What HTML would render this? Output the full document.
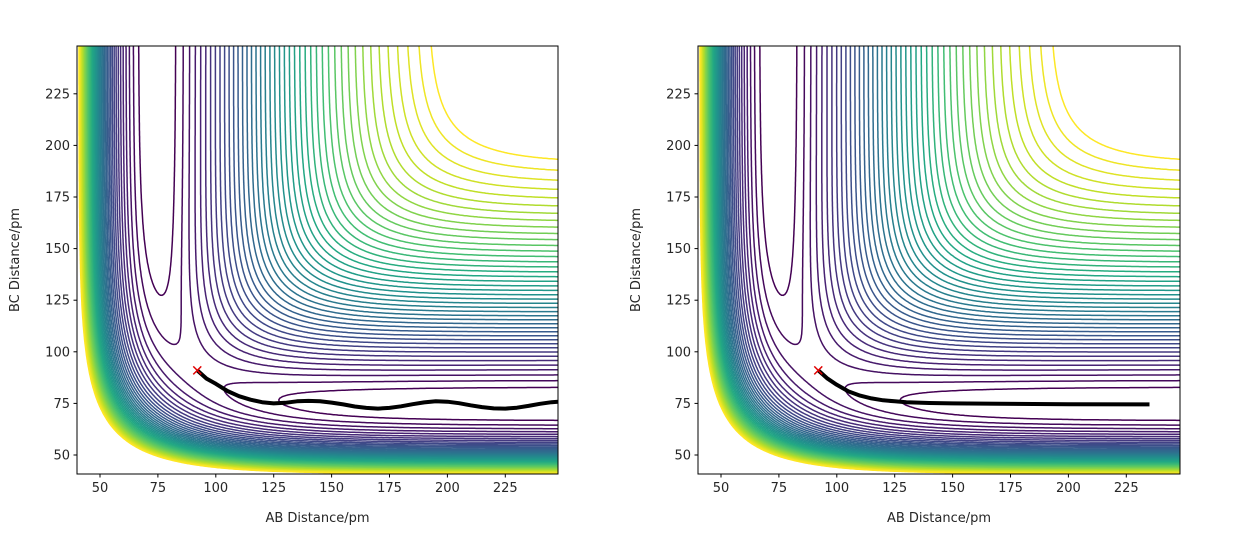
<!DOCTYPE html>
<html><head><meta charset="utf-8">
<style>
html,body{margin:0;padding:0;background:#fff;}
svg{display:block;font-family:"DejaVu Sans","Liberation Sans",sans-serif;}
</style></head>
<body>
<svg id="s" width="1241" height="550" viewBox="0 0 1241 550" xmlns="http://www.w3.org/2000/svg">
<defs>
<clipPath id="c0"><rect x="77" y="46" width="481" height="428"/></clipPath>
<clipPath id="c1"><rect x="698" y="46" width="482" height="428"/></clipPath>
</defs>
<g id="p0" clip-path="url(#c0)"></g>
<g id="p1" clip-path="url(#c1)"></g>
<g id="ax" font-size="13" fill="#262626"></g>
</svg>
<script>
(function(){
var NS="http://www.w3.org/2000/svg";
var D=458.2,B=0.0193,RE=74.1,F=0.695;
function E(r){var a=Math.exp(-B*(r-RE));var e1=D*(a*a-2*a),e3=F*D/2*(a*a+2*a);return [(e1+e3)/2,(e1-e3)/2];}
function V(x,y){var a=E(x),b=E(y),c=E(x+y);
 var j=0.5*((a[1]-b[1])*(a[1]-b[1])+(b[1]-c[1])*(b[1]-c[1])+(c[1]-a[1])*(c[1]-a[1]));
 return a[0]+b[0]+c[0]-Math.sqrt(j);}
var vir=["#440154","#482475","#414487","#355f8d","#2a788e","#21918c","#22a884","#44bf70","#7ad151","#bddf26","#fde725"];
function hx(h){return [parseInt(h.substr(1,2),16),parseInt(h.substr(3,2),16),parseInt(h.substr(5,2),16)];}
function cmap(t){t=Math.max(0,Math.min(1,t));var f=t*10,i=Math.min(9,Math.floor(f)),u=f-i;var a=hx(vir[i]),b=hx(vir[i+1]);
 return "rgb("+[0,1,2].map(function(k){return Math.round(a[k]+(b[k]-a[k])*u);}).join(",")+")";}
var levels=[];for(var L=-447;L<=-90;L+=8.5)levels.push(L);
var X0=40.1,X1=247.9,Y0=40.8,Y1=248;
var NX=300,NY=260;
var grid=[];
for(var j=0;j<=NY;j++){var row=[];var yv=Y0+(Y1-Y0)*j/NY;for(var i=0;i<=NX;i++){row.push(V(X0+(X1-X0)*i/NX,yv));}grid.push(row);}
function build(gid,left,width){
 var g=document.getElementById(gid);
 function px(i){return left+width*i/NX;}
 function py(j){return 474-428*j/NY;}
 levels.forEach(function(lv,li){
  var d="";
  for(var j=0;j<NY;j++)for(var i=0;i<NX;i++){
   var a=grid[j][i],b=grid[j][i+1],c=grid[j+1][i+1],e=grid[j+1][i];
   var pts=[];
   function cr(v1,v2,x1,y1,x2,y2){if((v1<lv)!=(v2<lv)){var t=(lv-v1)/(v2-v1);pts.push([x1+(x2-x1)*t,y1+(y2-y1)*t]);}}
   cr(a,b,px(i),py(j),px(i+1),py(j));
   cr(b,c,px(i+1),py(j),px(i+1),py(j+1));
   cr(c,e,px(i+1),py(j+1),px(i),py(j+1));
   cr(e,a,px(i),py(j+1),px(i),py(j));
   for(var k=0;k+1<pts.length;k+=2)d+="M"+pts[k][0].toFixed(1)+" "+pts[k][1].toFixed(1)+"L"+pts[k+1][0].toFixed(1)+" "+pts[k+1][1].toFixed(1);
  }
  var p=document.createElementNS(NS,"path");p.setAttribute("d",d);p.setAttribute("fill","none");
  p.setAttribute("stroke",cmap(li/(levels.length-1)));p.setAttribute("stroke-width","1.5");p.setAttribute("stroke-linecap","round");
  g.appendChild(p);
 });
}
build("p0",77,481);build("p1",698,482);
function X(v,off){return off+100+(v-50)*2.316;}
function Y(v){return 455-(v-50)*2.064;}
var tr0=[[92,91],[96,87],[100,84.5],[105,81],[110,78.5],[115,76.8],[120,75.6],[125,75],[130,75.3],[135,76],[140,76.2],[145,76],[150,75.4],[155,74.5],[160,73.5],[165,72.8],[170,72.5],[175,72.8],[180,73.6],[185,74.6],[190,75.5],[195,76],[200,75.8],[205,75.1],[210,74.1],[215,73.2],[220,72.6],[225,72.5],[230,72.9],[235,73.8],[240,74.8],[245,75.6],[250,76]];
var tr1=[[92,91],[96,87],[100,84],[105,80.8],[110,78.8],[115,77.4],[120,76.5],[125,76],[130,75.6],[140,75.2],[150,75],[170,74.8],[200,74.6],[235,74.5]];
function traj(gid,tr,off){
 var g=document.getElementById(gid);
 var s=tr.map(function(p){return X(p[0],off).toFixed(1)+","+Y(p[1]).toFixed(1);}).join(" ");
 var pl=document.createElementNS(NS,"polyline");pl.setAttribute("points",s);pl.setAttribute("fill","none");
 pl.setAttribute("stroke","#000");pl.setAttribute("stroke-width","4");pl.setAttribute("stroke-linejoin","round");g.appendChild(pl);
 var cx=X(92,off),cy=Y(91);
 var x=document.createElementNS(NS,"path");x.setAttribute("d","M"+(cx-4)+" "+(cy-4)+"L"+(cx+4)+" "+(cy+4)+"M"+(cx-4)+" "+(cy+4)+"L"+(cx+4)+" "+(cy-4));
 x.setAttribute("stroke","#e00000");x.setAttribute("stroke-width","1.5");g.appendChild(x);
}
traj("p0",tr0,0);traj("p1",tr1,621);
var ax=document.getElementById("ax");var h="";
[[77,481,0],[698,482,621]].forEach(function(p){
 var l=p[0],w=p[1],off=p[2];
 h+='<rect x="'+l+'" y="46" width="'+w+'" height="428" fill="none" stroke="#000" stroke-width="1"/>';
 for(var v=50;v<=225;v+=25){var xx=X(v,off),yy=Y(v);
  h+='<line x1="'+xx+'" y1="474" x2="'+xx+'" y2="477.5" stroke="#000"/>';
  h+='<text x="'+xx+'" y="492" text-anchor="middle">'+v+'</text>';
  h+='<line x1="'+l+'" y1="'+yy+'" x2="'+(l-3.5)+'" y2="'+yy+'" stroke="#000"/>';
  h+='<text x="'+(l-7)+'" y="'+(yy+4.5)+'" text-anchor="end">'+v+'</text>';}
 h+='<text x="'+(l+w/2)+'" y="522" text-anchor="middle">AB Distance/pm</text>';
 h+='<text transform="translate('+(l-58)+',260) rotate(-90)" text-anchor="middle">BC Distance/pm</text>';
});
ax.innerHTML=h;
})();
</script>
</body></html>
